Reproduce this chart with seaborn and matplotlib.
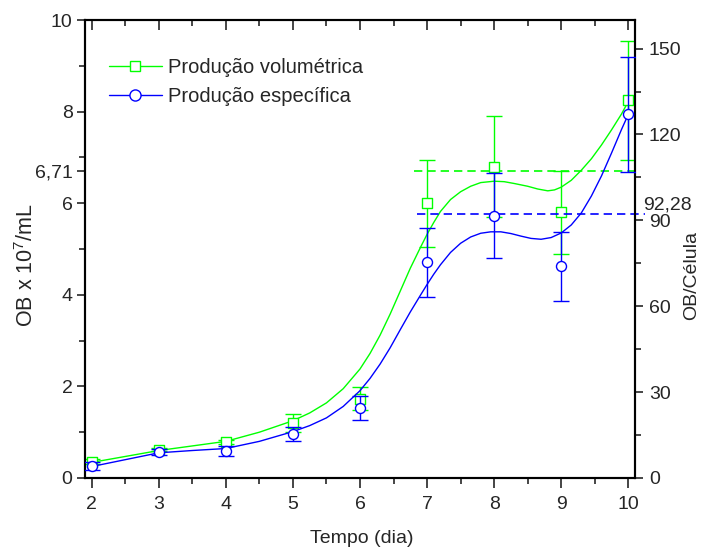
import matplotlib
matplotlib.use("Agg")
import matplotlib.pyplot as plt
from matplotlib.lines import Line2D
from matplotlib.ticker import MultipleLocator
import numpy as np
import pandas as pd
import seaborn as sns

# ---------------- data ----------------
days = [2, 3, 4, 5, 6, 7, 8, 9, 10]
vol = [0.36, 0.62, 0.79, 1.20, 1.73, 6.00, 6.80, 5.80, 8.25]
vol_err = [0.05, 0.04, 0.05, 0.20, 0.25, 0.95, 1.10, 0.90, 1.30]
esp = [4.2, 9.1, 9.5, 15.3, 24.3, 75.3, 91.7, 74.0, 127.0]
esp_err = [1.5, 1.2, 1.8, 2.5, 4.2, 12.0, 14.8, 12.0, 20.0]

vol_fit_x = [2, 3, 3.5, 4, 4.5, 5, 5.25, 5.5, 5.75, 6.0, 6.15, 6.3, 6.45, 6.6,
             6.75, 6.9, 7.0, 7.1, 7.2, 7.35, 7.5, 7.65, 7.8, 8.0, 8.15, 8.3,
             8.5, 8.65, 8.8, 8.9, 9.0, 9.15, 9.3, 9.45, 9.6, 9.75, 9.9, 10]
vol_fit_y = [0.34, 0.60, 0.70, 0.80, 1.00, 1.25, 1.42, 1.64, 1.95, 2.38, 2.72,
             3.12, 3.58, 4.08, 4.58, 5.03, 5.32, 5.58, 5.82, 6.08, 6.25, 6.37,
             6.45, 6.48, 6.47, 6.43, 6.37, 6.31, 6.27, 6.29, 6.35, 6.50, 6.72,
             6.97, 7.27, 7.60, 7.95, 8.22]

esp_fit_x = [2, 3, 3.5, 4, 4.5, 5, 5.25, 5.5, 5.75, 6.0, 6.15, 6.3, 6.45, 6.6,
             6.75, 6.9, 7.0, 7.1, 7.2, 7.35, 7.5, 7.65, 7.8, 7.95, 8.1, 8.25,
             8.4, 8.55, 8.7, 8.85, 9.0, 9.15, 9.3, 9.45, 9.6, 9.75, 9.9, 10]
esp_fit_y = [4.0, 8.8, 9.6, 10.3, 12.8, 16.2, 18.3, 21.0, 25.0, 30.5, 34.8,
             39.8, 45.5, 51.8, 58.0, 63.8, 67.6, 71.2, 74.5, 78.8, 82.0, 84.2,
             85.5, 86.0, 86.0, 85.4, 84.5, 83.7, 83.4, 84.0, 85.6, 88.4, 92.6,
             98.5, 105.5, 113.5, 121.8, 127.0]

ref_vol = 6.71
ref_esp = 92.28
ref_vol_label = "6,71"
ref_esp_label = "92,28"

x_ticks = [2, 3, 4, 5, 6, 7, 8, 9, 10]
left_ticks = [0, 2, 4, 6, 8, 10]
right_ticks = [0, 30, 60, 90, 120, 150]

labels = ["Produção volumétrica", "Produção específica"]

# ---------------- style ----------------
sns.set_style("ticks")
plt.rcParams["font.family"] = ["Liberation Sans", "DejaVu Sans"]
plt.rcParams["mathtext.fontset"] = "custom"
plt.rcParams["mathtext.rm"] = "Liberation Sans"
plt.rcParams["mathtext.it"] = "Liberation Sans:italic"
plt.rcParams["mathtext.bf"] = "Liberation Sans:bold"

GREEN = "#00ff00"
BLUE = "#0000ff"
FS = 14

fig = plt.figure(figsize=(7.06, 5.51), dpi=100)
ax = fig.add_axes([0.1204, 0.1325, 0.7790, 0.8312])
ax2 = ax.twinx()

df_vol = pd.DataFrame({"x": vol_fit_x, "y": vol_fit_y})
df_esp = pd.DataFrame({"x": esp_fit_x, "y": esp_fit_y})
df_pts = pd.DataFrame({"day": days, "vol": vol, "vol_err": vol_err,
                       "esp": esp, "esp_err": esp_err})

# green series (left axis)
sns.lineplot(data=df_vol, x="x", y="y", ax=ax, color=GREEN, lw=1.0,
             sort=False, legend=False)
ax.errorbar(df_pts["day"], df_pts["vol"], yerr=df_pts["vol_err"], fmt="none",
            ecolor=GREEN, elinewidth=1.0, capsize=5.5, capthick=1.0, zorder=3)
sns.scatterplot(data=df_pts, x="day", y="vol", ax=ax, marker="s", s=42,
                facecolor="white", edgecolor=GREEN, linewidth=1.0, zorder=4,
                legend=False)
ax.plot([6.8, 10.12], [ref_vol, ref_vol], ls=(0, (5, 3)), color=GREEN, lw=1.2,
        clip_on=False)

# blue series (right axis)
sns.lineplot(data=df_esp, x="x", y="y", ax=ax2, color=BLUE, lw=1.0,
             sort=False, legend=False)
ax2.errorbar(df_pts["day"], df_pts["esp"], yerr=df_pts["esp_err"], fmt="none",
             ecolor=BLUE, elinewidth=1.0, capsize=5.5, capthick=1.0, zorder=3)
sns.scatterplot(data=df_pts, x="day", y="esp", ax=ax2, marker="o", s=52,
                facecolor="white", edgecolor=BLUE, linewidth=1.0, zorder=4,
                legend=False)
ax2.plot([6.85, 10.25], [ref_esp, ref_esp], ls=(0, (5, 3)), color=BLUE, lw=1.2,
         clip_on=False)
ax2.text(1.0145, ref_esp, ref_esp_label, transform=ax2.get_yaxis_transform(),
         ha="left", va="bottom", fontsize=FS)

# axes limits and ticks
ax.set_xlim(1.9, 10.1)
ax.set_ylim(0, 10)
ax2.set_ylim(0, 160)

ax.set_xticks(x_ticks)
ax.set_xticklabels([str(t) for t in x_ticks])
ax.xaxis.set_minor_locator(MultipleLocator(0.5))
lt = left_ticks[:3] + [6, ref_vol] + left_ticks[4:]
ax.set_yticks(lt)
ax.set_yticklabels([str(t) if t != ref_vol else ref_vol_label for t in lt])
ax.yaxis.set_minor_locator(MultipleLocator(1))
ax2.set_yticks(right_ticks)
ax2.set_yticklabels([str(t) for t in right_ticks])
ax2.yaxis.set_minor_locator(MultipleLocator(15))

ax.tick_params(axis="x", which="major", direction="out", length=7, width=1.2,
               pad=6, labelsize=FS, top=False)
ax.tick_params(axis="x", which="minor", direction="out", length=4, width=1.2,
               top=False)
ax.tick_params(axis="y", which="major", direction="out", length=6, width=1.2,
               pad=3, labelsize=FS)
ax.tick_params(axis="y", which="minor", direction="out", length=4, width=1.2)
ax2.tick_params(axis="y", which="major", direction="out", length=6, width=1.2,
                pad=4, labelsize=FS)
ax2.tick_params(axis="y", which="minor", direction="out", length=4, width=1.2)
# top ticks pointing inward
ax2.xaxis.set_visible(True)
ax2.set_xlabel("")
ax2.tick_params(axis="x", which="both", top=True, bottom=False, labeltop=False,
                labelbottom=False, direction="in", width=1.2)
ax2.tick_params(axis="x", which="major", length=7)
ax2.tick_params(axis="x", which="minor", length=4)

for a in (ax, ax2):
    for sp in a.spines.values():
        sp.set_visible(True)
        sp.set_linewidth(1.5)
        sp.set_color("black")

ax.set_xlabel("Tempo (dia)", fontsize=FS)
ax.set_ylabel("OB x 10$^{7}$/mL", fontsize=15.5)
ax2.set_ylabel("OB/Célula", fontsize=FS)
ax.xaxis.set_label_coords(0.503, -0.113)
ax.yaxis.set_label_coords(-0.085, 0.465)
ax2.yaxis.set_label_coords(1.088, 0.443)

handles = [
    Line2D([], [], color=GREEN, lw=1.0, marker="s", markersize=7,
           markerfacecolor="white", markeredgecolor=GREEN),
    Line2D([], [], color=BLUE, lw=1.0, marker="o", markersize=8,
           markerfacecolor="white", markeredgecolor=BLUE),
]
ax2.legend(handles, labels, loc="upper left", bbox_to_anchor=(0.044, 0.918),
           frameon=False, fontsize=14.5, handlelength=2.6, handletextpad=0.3,
           labelspacing=0.5, borderpad=0, borderaxespad=0)

fig.savefig("out.png", dpi=100)
